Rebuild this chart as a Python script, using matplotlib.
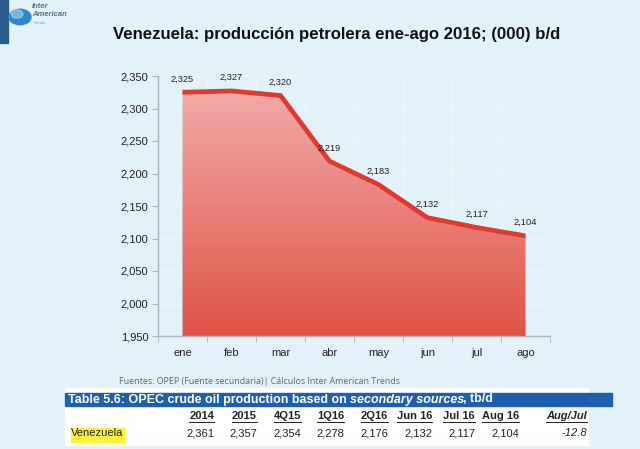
import matplotlib
matplotlib.use("Agg")
import matplotlib.pyplot as plt
import numpy as np
from matplotlib.patches import Rectangle, Circle
from matplotlib.colors import LinearSegmentedColormap

# ---- data ----
months = ["ene", "feb", "mar", "abr", "may", "jun", "jul", "ago"]
production = [2325, 2327, 2320, 2219, 2183, 2132, 2117, 2104]
yticks = [1950, 2000, 2050, 2100, 2150, 2200, 2250, 2300, 2350]

table_cols = ["2014", "2015", "4Q15", "1Q16", "2Q16", "Jun 16", "Jul 16", "Aug 16", "Aug/Jul"]
table_vals = ["2,361", "2,357", "2,354", "2,278", "2,176", "2,132", "2,117", "2,104", "-12.8"]
table_row = "Venezuela"

title = "Venezuela: producción petrolera ene-ago 2016; (000) b/d"
source = "Fuentes: OPEP (Fuente secundaria)| Cálculos Inter American Trends"

W, H = 640, 449
BG = "#e3f1f8"
plt.rcParams['font.family'] = ['Liberation Sans', 'DejaVu Sans']

fig = plt.figure(figsize=(W / 100, H / 100), dpi=100, facecolor=BG)

def fx(x):
    return x / W

def fy(y):
    return 1 - y / H

# ---- logo ----
fig.patches.append(Rectangle((0, fy(43)), fx(8), 43 / H, transform=fig.transFigure,
                             color="#2b5d8c", zorder=1))
fig.patches.append(Circle((fx(20), fy(17)), 11 / W, transform=fig.transFigure,
                          color="#2f86cc", zorder=2))
fig.patches.append(Circle((fx(17), fy(14)), 6 / W, transform=fig.transFigure,
                          color="#a9d4f2", alpha=0.6, zorder=3))
fig.text(fx(32), fy(7), "Inter", fontsize=5.5, style="italic", weight="bold",
         color="#5a6f86", va="center", ha="left")
fig.text(fx(32), fy(15), "American", fontsize=5.5, style="italic", weight="bold",
         color="#5a6f86", va="center", ha="left")
fig.text(fx(33), fy(22.5), "Trends", fontsize=3.2, color="#8a99aa", va="center", ha="left")

# ---- title ----
fig.text(fx(337), fy(35), title, fontsize=12.1, weight="bold", color="#111111",
         ha="center", va="center")

# ---- chart ----
ax = fig.add_axes([fx(158), fy(336), (550 - 158) / W, (336 - 76) / H])
ax.set_facecolor(BG)
x = np.arange(len(months))
ax.set_xlim(-0.5, len(months) - 0.5)
ax.set_ylim(yticks[0], yticks[-1])

poly = ax.fill_between(x, production, yticks[0], color="none", lw=0)
cmap = LinearSegmentedColormap.from_list("g", ["#df5447", "#f2aaa8"])
grad = np.linspace(0, 1, 256).reshape(-1, 1)
im = ax.imshow(grad, cmap=cmap, origin="lower", aspect="auto",
               extent=[-0.5, len(months) - 0.5, yticks[0], max(production)],
               zorder=2)
path = poly.get_paths()[0]
im.set_clip_path(path, transform=ax.transData)
ax.plot(x, production, color="#e0392f", lw=3.4, zorder=3, solid_capstyle="butt")

for xi, v in zip(x, production):
    ax.annotate(f"{v:,}", (xi, v), xytext=(0, 9.5), textcoords="offset points",
                ha="center", va="center", fontsize=6.7, color="#222222", zorder=4)

ax.set_yticks(yticks)
ax.set_yticklabels([f"{v:,}" for v in yticks], fontsize=8, color="#222222")
ax.set_xticks(x)
ax.set_xticklabels(months, fontsize=8, color="#222222")
ax.set_xticks(np.arange(-0.5, len(months)), minor=True)
ax.tick_params(axis="x", which="major", length=0, pad=9)
ax.tick_params(axis="x", which="minor", length=4, color="#a9b3bb", direction="out")
ax.tick_params(axis="y", which="major", length=4, color="#a9b3bb", pad=3)
ax.grid(True, axis="y", which="major", color="#eef7fb", lw=0.7, zorder=0)
ax.grid(True, axis="x", which="minor", color="#eef7fb", lw=0.7, zorder=0)
for s in ["top", "right"]:
    ax.spines[s].set_visible(False)
for s in ["left", "bottom"]:
    ax.spines[s].set_color("#a9b3bb")
    ax.spines[s].set_linewidth(1.0)
ax.set_axisbelow(True)

# ---- source ----
fig.text(fx(119), fy(382), source, fontsize=6.4, color="#666666",
         family=["Open Sans", "DejaVu Sans"], ha="left", va="center")

# ---- table ----
fig.patches.append(Rectangle((fx(65), fy(445)), (588 - 65) / W, (445 - 388) / H,
                             transform=fig.transFigure, color="white", zorder=1))
fig.patches.append(Rectangle((fx(65), fy(406)), (612 - 65) / W, (406 - 393) / H,
                             transform=fig.transFigure, color="#1f5fae", zorder=2))

fig.canvas.draw()
renderer = fig.canvas.get_renderer()

def ext(t):
    return t.get_window_extent(renderer=renderer)

def underline(t, color, lw=0.8, off=1.5):
    bb = ext(t)
    yb = bb.y0 - off
    fig.add_artist(plt.Line2D([bb.x0 / W, bb.x1 / W], [yb / H, yb / H],
                              transform=fig.transFigure, color=color, lw=lw))

header_parts = [
    ("Table 5.6: OPEC crude oil production based on ", "normal", False),
    ("secondary sources", "italic", True),
    (", tb/d", "normal", False),
]
cx = 68
for txt, st, ul in header_parts:
    t = fig.text(fx(cx), fy(399.5), txt, fontsize=9.0, weight="bold", style=st,
                 color="white", ha="left", va="center", zorder=3)
    bb = ext(t)
    if ul:
        underline(t, "white", lw=0.8, off=1.0)
    cx = bb.x1 - (2 if ul else 0)

col_right = [214, 257, 301, 344, 388, 432, 475, 519, 587]
for i, (c, v, xr) in enumerate(zip(table_cols, table_vals, col_right)):
    st = "italic" if i == len(table_cols) - 1 else "normal"
    t = fig.text(fx(xr), fy(416), c, fontsize=8, weight="bold", style=st,
                 color="#222222", ha="right", va="center", zorder=3)
    underline(t, "#222222", lw=0.7, off=1.2)
    fig.text(fx(xr), fy(433), v, fontsize=8, style=st, color="#222222",
             ha="right", va="center", zorder=3)

t = fig.text(fx(71), fy(433), table_row, fontsize=8, color="#222222",
             ha="left", va="center", zorder=4)
bb = ext(t)
fig.patches.append(Rectangle((bb.x0 / W, fy(442)), (bb.x1 - bb.x0 + 1) / W, 14 / H,
                             transform=fig.transFigure, color="#fff23a", zorder=3))

fig.savefig("out.png", dpi=100, facecolor=BG)
